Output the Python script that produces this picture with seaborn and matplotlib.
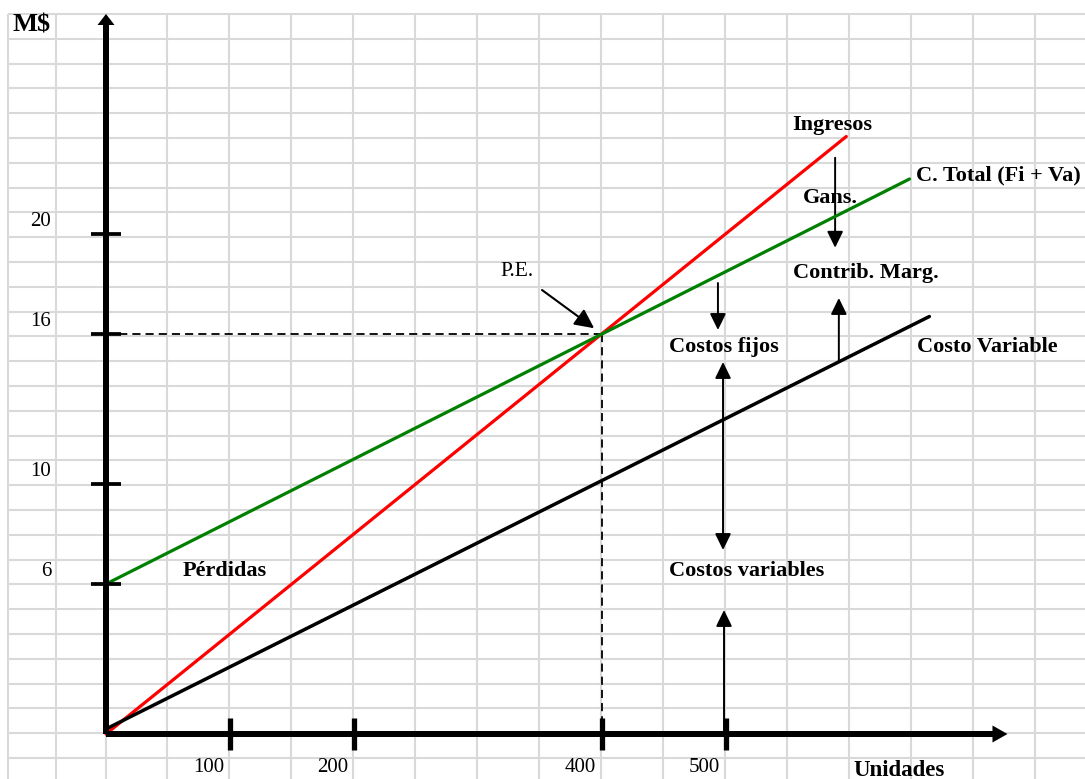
import numpy as np
import matplotlib
matplotlib.use("Agg")
import matplotlib.pyplot as plt
import seaborn as sns

# Break-even chart: revenue, total cost and variable cost (M$ vs. units)
unidades_ingresos = [0, 597]
ingresos = [0, 23.9]
unidades_total = [0, 648]
costo_total = [6, 22.2]
unidades_variable = [0, 664]
costo_variable = [0.2, 16.7]

pe_unidades = 400
pe_monto = 16

x_ticks = [100, 200, 400, 500]
x_tick_labels = ["100", "200", "400", "500"]
y_ticks = [6, 10, 16, 20]
y_tick_labels = ["6", "10", "16", "20"]

sns.set_style("white")
plt.rcParams["font.family"] = ["Liberation Serif", "DejaVu Serif"]
plt.rcParams["text.color"] = "black"

W, H, DPI = 1085, 779, 100
fig = plt.figure(figsize=(W / DPI, H / DPI), dpi=DPI)

# worksheet cell grid behind the chart, in pixel units
bg = fig.add_axes([0, 0, 1, 1])
bg.set_xlim(0, W)
bg.set_ylim(H, 0)
bg.axis("off")
grid_color = "#d9d9d9"
col_edges = [8, 56, 106] + list(np.arange(167, W, 62.0))
row_edges = list(np.arange(14, H, 24.8))
for xc in col_edges:
    bg.plot([xc, xc], [row_edges[0], H], color=grid_color, lw=1.5, solid_capstyle="butt")
for yr in row_edges:
    bg.plot([col_edges[0], W], [yr, yr], color=grid_color, lw=1.5, solid_capstyle="butt")

# chart axes: 1.24 px per unit horizontally, 25 px per M$ vertically
PX_X, PX_Y = 1.24, 25.0
X0, Y0 = 106, 734
ax = fig.add_axes([0, 0, 1, 1])
ax.patch.set_alpha(0)
ax.set_xlim(-X0 / PX_X, (W - X0) / PX_X)
ax.set_ylim(-(H - Y0) / PX_Y, Y0 / PX_Y)
ax.axis("off")

# axes drawn as thick arrows
y_top = 28.8
x_end = 727
ax.arrow(0, 0, 0, y_top, width=6 / PX_X, head_width=17 / PX_X, head_length=11 / PX_Y,
         length_includes_head=True, fc="black", ec="none", zorder=5)
ax.arrow(0, 0, x_end, 0, width=6 / PX_Y, head_width=17 / PX_Y, head_length=15 / PX_X,
         length_includes_head=True, fc="black", ec="none", zorder=5)

# tick marks and labels
for t, lab in zip(y_ticks, y_tick_labels):
    ax.plot([-12, 12], [t, t], color="black", lw=2.7, solid_capstyle="butt", zorder=5)
    ax.annotate(lab, xy=(0, t), xytext=(-55, 12), textcoords="offset pixels",
                ha="right", va="center", fontsize=15)
for t, lab in zip(x_ticks, x_tick_labels):
    ax.plot([t, t], [-0.64, 0.64], color="black", lw=3.8, solid_capstyle="butt", zorder=5)
    ax.annotate(lab, xy=(t, 0), xytext=(-6, -34), textcoords="offset pixels",
                ha="right", va="center", fontsize=15)

# revenue, total cost and variable cost lines
sns.lineplot(x=unidades_ingresos, y=ingresos, color="#ff0000", lw=2.3, ax=ax, zorder=4)
sns.lineplot(x=unidades_total, y=costo_total, color="#008000", lw=2.3, ax=ax, zorder=4)
sns.lineplot(x=unidades_variable, y=costo_variable, color="black", lw=2.5, ax=ax, zorder=4)

# break-even guides
ax.plot([0, pe_unidades], [pe_monto, pe_monto], color="black", lw=1.3,
        ls=(0, (4.5, 2.8)), zorder=3)
ax.plot([pe_unidades, pe_unidades], [pe_monto, 0], color="black", lw=1.3,
        ls=(0, (4.5, 2.8)), zorder=3)
ax.annotate("", xy=(pe_unidades, pe_monto), xytext=(-60, 44), textcoords="offset pixels",
            arrowprops=dict(arrowstyle="-|>,head_length=0.45,head_width=0.22",
                            mutation_scale=26, lw=1.5, color="black",
                            shrinkA=0, shrinkB=7))
ax.annotate("P.E.", xy=(pe_unidades, pe_monto), xytext=(-85, 62), textcoords="offset pixels",
            ha="center", va="center", fontsize=15.5)

# explanatory arrows
arrow_kw = dict(arrowstyle="-|>,head_length=0.45,head_width=0.22", mutation_scale=22,
                lw=1.4, color="black", shrinkA=0, shrinkB=0)
both_kw = dict(arrow_kw, arrowstyle="<|-|>,head_length=0.45,head_width=0.22")
ax.annotate("", xy=(588, 19.45), xytext=(588, 23.05), arrowprops=arrow_kw)      # Gans.
ax.annotate("", xy=(591, 17.44), xytext=(591, 14.9), arrowprops=arrow_kw)       # Contrib.
ax.annotate("", xy=(493.5, 16.16), xytext=(493.5, 18.04), arrowprops=arrow_kw)  # fijos
ax.annotate("", xy=(497.6, 14.88), xytext=(497.6, 7.36), arrowprops=both_kw)
ax.annotate("", xy=(498.4, 4.96), xytext=(498.4, 0), arrowprops=arrow_kw)

# labels
bold = dict(fontsize=16, fontweight="bold", va="center")
ax.text(585.5, 24.36, "Ingresos", ha="center", **bold)
ax.text(653.2, 22.36, "C. Total (Fi + Va)", ha="left", **bold)
ax.text(583.9, 21.44, "Gans.", ha="center", **bold)
ax.text(554.0, 18.44, "Contrib. Marg.", ha="left", **bold)
ax.text(498.4, 15.48, "Costos fijos", ha="center", **bold)
ax.text(654.0, 15.48, "Costo Variable", ha="left", **bold)
ax.text(96.0, 6.52, "Pérdidas", ha="center", **bold)
ax.text(517.0, 6.52, "Costos variables", ha="center", **bold)
ax.text(639.5, -1.44, "Unidades", ha="center", va="center", fontsize=16.5, fontweight="bold")
ax.text(-59.7, 28.36, "M$", ha="center", va="center", fontsize=19, fontweight="bold")

fig.savefig("out.png", dpi=DPI)
